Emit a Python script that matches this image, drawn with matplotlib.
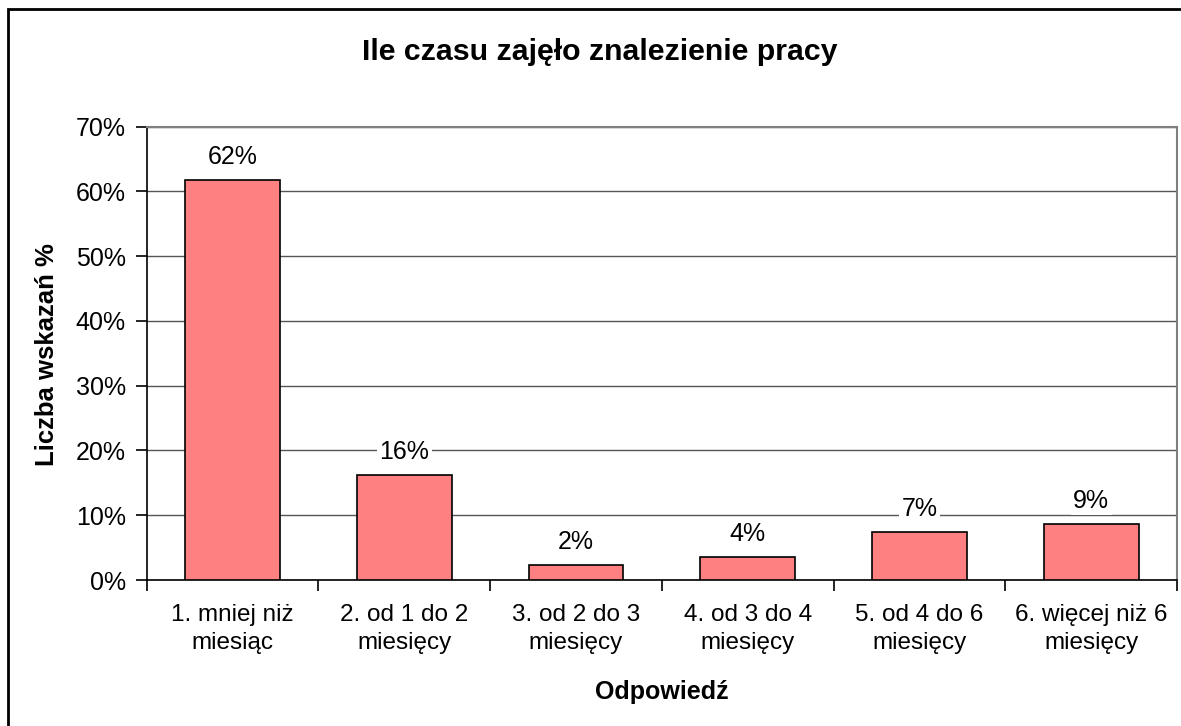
import matplotlib
matplotlib.use("Agg")
import matplotlib.pyplot as plt
from matplotlib.patches import Rectangle
from matplotlib.ticker import MultipleLocator, FuncFormatter

plt.rcParams['font.family'] = ['Liberation Sans', 'DejaVu Sans']

categories = ["1. mniej niż\nmiesiąc", "2. od 1 do 2\nmiesięcy", "3. od 2 do 3\nmiesięcy",
              "4. od 3 do 4\nmiesięcy", "5. od 4 do 6\nmiesięcy", "6. więcej niż 6\nmiesięcy"]
values = [61.8, 16.2, 2.3, 3.6, 7.4, 8.7]
labels = ["62%", "16%", "2%", "4%", "7%", "9%"]

W, H = 1181, 726
fig = plt.figure(figsize=(W / 100, H / 100), dpi=100)
fig.patch.set_facecolor("white")

# outer frame
fig.patches.append(Rectangle((8 / W, 0 - 0.01), 1.2, (H - 9) / H + 0.01, transform=fig.transFigure,
                             fill=False, edgecolor="black", linewidth=2))

left, right, top, bottom = 146.7, 1177, 126.7, 580
ax = fig.add_axes([left / W, 1 - bottom / H, (right - left) / W, (bottom - top) / H])

x = list(range(len(values)))
ax.bar(x, values, width=0.553, color="#FF8080", edgecolor="black", linewidth=1.2, zorder=3)
ax.set_xlim(-0.5, len(values) - 0.5)
ax.set_ylim(0, 70)
ax.yaxis.set_major_locator(MultipleLocator(10))
ax.yaxis.set_major_formatter(FuncFormatter(lambda v, p: f"{v:.0f}%"))
ax.grid(axis="y", color="#555555", linewidth=1, zorder=0)
ax.set_axisbelow(True)

for s in ["top", "right"]:
    ax.spines[s].set_color("#808080")
    ax.spines[s].set_linewidth(1.5)
for s in ["left", "bottom"]:
    ax.spines[s].set_color("black")
    ax.spines[s].set_linewidth(1.2)

ax.set_xticks(x)
ax.set_xticklabels(categories, fontsize=17.5, linespacing=1.38)
ax.tick_params(axis="x", length=0, pad=17)
ax.set_xticks([i - 0.5 for i in range(len(values) + 1)], minor=True)
ax.tick_params(axis="x", which="minor", length=8, width=1.2, direction="out")
ax.tick_params(axis="y", length=8, width=1.2, direction="out", labelsize=18, pad=7)

for xi, v, lab in zip(x, values, labels):
    ax.annotate(lab, (xi, v), xytext=(0, 8), textcoords="offset points", ha="center", va="bottom",
                fontsize=18, zorder=4,
                bbox=dict(boxstyle="square,pad=0.1", facecolor="white", edgecolor="none"))

fig.text(600 / W, 1 - 52 / H, "Ile czasu zajęło znalezienie pracy", ha="center", va="center",
         fontsize=21.8, fontweight="bold")
fig.text(47 / W, 1 - 355 / H, "Liczba wskazań %", ha="center", va="center", rotation=90,
         fontsize=18.5, fontweight="bold")
fig.text(662 / W, 1 - 692 / H, "Odpowiedź", ha="center", va="center",
         fontsize=18, fontweight="bold")

fig.savefig("out.png", dpi=100)
